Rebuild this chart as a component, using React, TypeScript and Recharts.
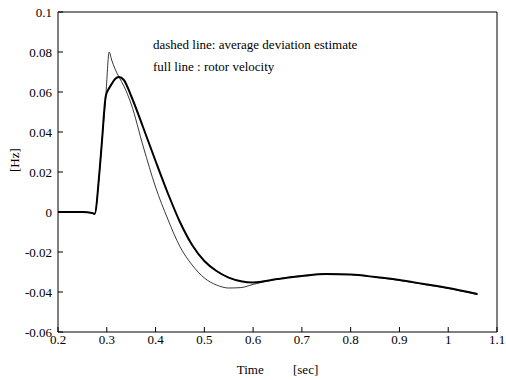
import { LineChart, Line, XAxis, YAxis, Label } from 'recharts';

const time = [
  0.2, 0.25, 0.27, 0.275, 0.285, 0.29, 0.298, 0.305, 0.31, 0.317, 0.325, 0.335, 0.35, 0.375, 0.4,
  0.425, 0.45, 0.475, 0.5, 0.525, 0.55, 0.575, 0.6, 0.65, 0.7, 0.75, 0.8, 0.85, 0.9, 0.95, 1.0, 1.06,
];
const rotorVelocity = [
  0, 0, -0.0005, -0.001, 0.02, 0.035, 0.058, 0.062, 0.064, 0.0665, 0.0675, 0.066, 0.058, 0.042, 0.0255,
  0.0095, -0.005, -0.0165, -0.0245, -0.0295, -0.0328, -0.0346, -0.0352, -0.0335, -0.032, -0.031, -0.0313,
  -0.0325, -0.034, -0.036, -0.038, -0.041,
];
const deviationEstimate = [
  0, 0, -0.0005, -0.001, 0.02, 0.035, 0.058, 0.08, 0.076, 0.0715, 0.0675, 0.063, 0.054, 0.0325, 0.0125,
  -0.0035, -0.0173, -0.0265, -0.033, -0.0365, -0.038, -0.0378, -0.0362, -0.0335, -0.0318, -0.031, -0.0313,
  -0.0326, -0.0342, -0.0362, -0.0382, -0.0413,
];
const xTicks = [0.2, 0.3, 0.4, 0.5, 0.6, 0.7, 0.8, 0.9, 1, 1.1];
const yTicks = [-0.06, -0.04, -0.02, 0, 0.02, 0.04, 0.06, 0.08, 0.1];

const data = time.map((t, i) => ({ t, velocity: rotorVelocity[i], estimate: deviationEstimate[i] }));

const font = { fontFamily: '"Liberation Serif", serif', fontSize: 13, fill: '#000' };

export default function App() {
  return (
    <div style={{ position: 'absolute', left: 0, top: 0, width: 506, height: 380, background: '#fff' }}>
      <LineChart width={506} height={380} data={data} margin={{ top: 2, right: 0, bottom: 0, left: 0 }}>
        <XAxis
          dataKey="t"
          type="number"
          domain={[0.2, 1.1]}
          ticks={xTicks}
          tickSize={-5}
          tickMargin={8}
          stroke="#000"
          tick={font}
          height={48}
        >
          <Label
            value={'Time\u00a0\u00a0\u00a0\u00a0\u00a0\u00a0\u00a0\u00a0\u00a0[sec]'}
            position="insideBottom"
            offset={6}
            style={{ ...font }}
          />
        </XAxis>
        <XAxis
          xAxisId="top"
          orientation="top"
          dataKey="t"
          type="number"
          domain={[0.2, 1.1]}
          ticks={xTicks}
          tickSize={-5}
          tick={false}
          tickLine
          stroke="#000"
          height={10}
        />
        <YAxis
          type="number"
          domain={[-0.06, 0.1]}
          ticks={yTicks}
          tickSize={-5}
          tickMargin={11}
          stroke="#000"
          tick={font}
          width={58}
        >
          <Label value="[Hz]" angle={-90} position="insideLeft" offset={14} style={{ ...font }} />
        </YAxis>
        <YAxis
          yAxisId="right"
          orientation="right"
          type="number"
          domain={[-0.06, 0.1]}
          ticks={yTicks}
          tickSize={-5}
          tick={false}
          tickLine
          stroke="#000"
          width={9}
        />
        <Line
          xAxisId="top"
          yAxisId="right"
          dataKey="velocity"
          stroke="none"
          dot={false}
          activeDot={false}
          isAnimationActive={false}
        />
        <Line
          type="monotone"
          dataKey="estimate"
          stroke="#222"
          strokeWidth={0.9}
          dot={false}
          isAnimationActive={false}
        />
        <Line
          type="monotone"
          dataKey="velocity"
          stroke="#000"
          strokeWidth={2}
          dot={false}
          isAnimationActive={false}
        />
      </LineChart>
      <svg width={506} height={380} style={{ position: 'absolute', left: 0, top: 0, pointerEvents: 'none' }}>
        <text x={153} y={49} style={font}>dashed line: average deviation estimate</text>
        <text x={153} y={71} style={font}>full line : rotor velocity</text>
      </svg>
    </div>
  );
}
